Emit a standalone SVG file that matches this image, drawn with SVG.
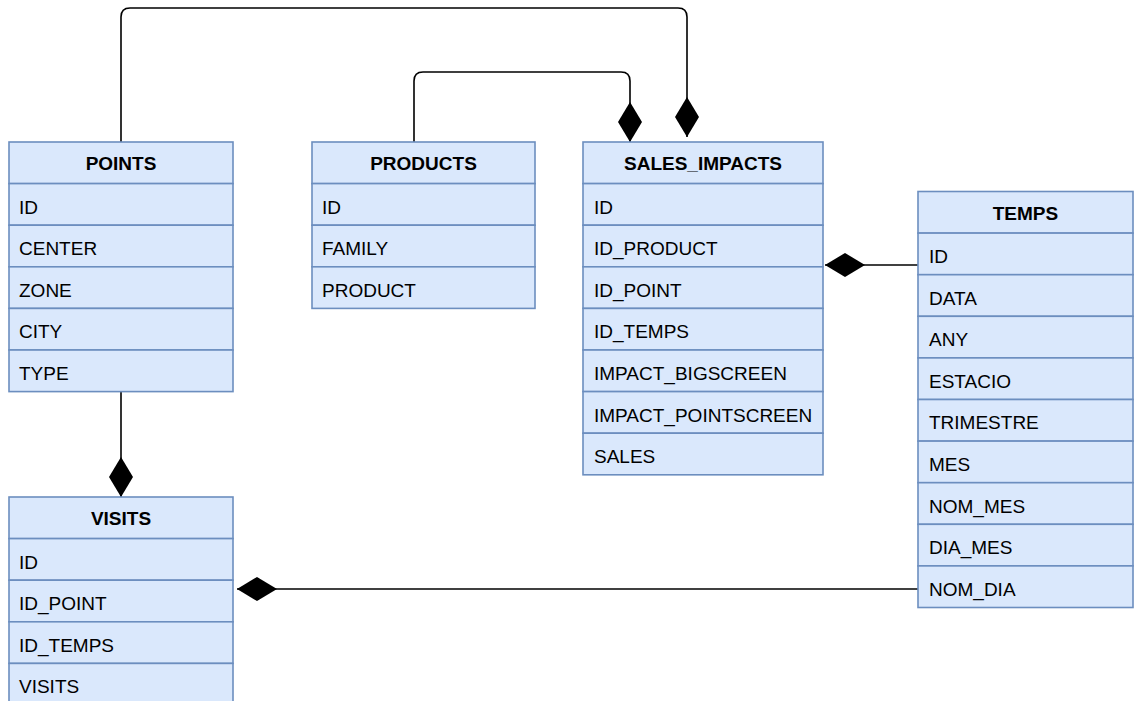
<svg xmlns="http://www.w3.org/2000/svg" width="1135" height="701" viewBox="0 0 1135 701">
<style>
.box{fill:#dae8fc;stroke:#6c8ebf;stroke-width:1.6}
.t{font-family:"Liberation Sans",Arial,sans-serif;font-size:19px;fill:#000}
.h{font-weight:bold;text-anchor:middle}
.c{fill:none;stroke:#000;stroke-width:1.6}
</style>
<defs>
<marker id="dia" viewBox="0 0 40 24" refX="40" refY="12" markerWidth="40" markerHeight="24" markerUnits="userSpaceOnUse" orient="auto">
<path d="M0,12 L20,0 L40,12 L20,24 Z" fill="#000"/>
</marker>
</defs>
<rect width="1135" height="701" fill="#fff"/>
<g id="connectors">
<path class="c" d="M121,142 V17 Q121,8 130,8 H678 Q687,8 687,17 V137" marker-end="url(#dia)"/>
<path class="c" d="M414,142 V81 Q414,72 423,72 H621 Q630,72 630,81 V142" marker-end="url(#dia)"/>
<path class="c" d="M121,392 V497" marker-end="url(#dia)"/>
<path class="c" d="M918,265 H825" marker-end="url(#dia)"/>
<path class="c" d="M918,589 H237" marker-end="url(#dia)"/>
</g>
<g id="points">
<rect class="box" x="9" y="142" width="224" height="41.6"/>
<rect class="box" x="9" y="183.6" width="224" height="41.6"/>
<rect class="box" x="9" y="225.2" width="224" height="41.6"/>
<rect class="box" x="9" y="266.8" width="224" height="41.6"/>
<rect class="box" x="9" y="308.4" width="224" height="41.6"/>
<rect class="box" x="9" y="350" width="224" height="41.6"/>
<text class="t h" x="121" y="170">POINTS</text>
<text class="t" x="19" y="213.5">ID</text>
<text class="t" x="19" y="255.1">CENTER</text>
<text class="t" x="19" y="296.7">ZONE</text>
<text class="t" x="19" y="338.3">CITY</text>
<text class="t" x="19" y="379.9">TYPE</text>
</g>
<g id="products">
<rect class="box" x="312" y="142" width="223" height="41.6"/>
<rect class="box" x="312" y="183.6" width="223" height="41.6"/>
<rect class="box" x="312" y="225.2" width="223" height="41.6"/>
<rect class="box" x="312" y="266.8" width="223" height="41.6"/>
<text class="t h" x="423.5" y="170">PRODUCTS</text>
<text class="t" x="322" y="213.5">ID</text>
<text class="t" x="322" y="255.1">FAMILY</text>
<text class="t" x="322" y="296.7">PRODUCT</text>
</g>
<g id="sales_impacts">
<rect class="box" x="583" y="142" width="240" height="41.6"/>
<rect class="box" x="583" y="183.6" width="240" height="41.6"/>
<rect class="box" x="583" y="225.2" width="240" height="41.6"/>
<rect class="box" x="583" y="266.8" width="240" height="41.6"/>
<rect class="box" x="583" y="308.4" width="240" height="41.6"/>
<rect class="box" x="583" y="350" width="240" height="41.6"/>
<rect class="box" x="583" y="391.6" width="240" height="41.6"/>
<rect class="box" x="583" y="433.2" width="240" height="41.6"/>
<text class="t h" x="703" y="170">SALES_IMPACTS</text>
<text class="t" x="594" y="213.5">ID</text>
<text class="t" x="594" y="255.1">ID_PRODUCT</text>
<text class="t" x="594" y="296.7">ID_POINT</text>
<text class="t" x="594" y="338.3">ID_TEMPS</text>
<text class="t" x="594" y="379.9">IMPACT_BIGSCREEN</text>
<text class="t" x="594" y="421.5">IMPACT_POINTSCREEN</text>
<text class="t" x="594" y="463.1">SALES</text>
</g>
<g id="temps">
<rect class="box" x="918" y="191.5" width="215" height="41.6"/>
<rect class="box" x="918" y="233.1" width="215" height="41.6"/>
<rect class="box" x="918" y="274.7" width="215" height="41.6"/>
<rect class="box" x="918" y="316.3" width="215" height="41.6"/>
<rect class="box" x="918" y="357.9" width="215" height="41.6"/>
<rect class="box" x="918" y="399.5" width="215" height="41.6"/>
<rect class="box" x="918" y="441.1" width="215" height="41.6"/>
<rect class="box" x="918" y="482.7" width="215" height="41.6"/>
<rect class="box" x="918" y="524.3" width="215" height="41.6"/>
<rect class="box" x="918" y="565.9" width="215" height="41.6"/>
<text class="t h" x="1025.5" y="219.5">TEMPS</text>
<text class="t" x="929" y="263">ID</text>
<text class="t" x="929" y="304.6">DATA</text>
<text class="t" x="929" y="346.2">ANY</text>
<text class="t" x="929" y="387.8">ESTACIO</text>
<text class="t" x="929" y="429.4">TRIMESTRE</text>
<text class="t" x="929" y="471">MES</text>
<text class="t" x="929" y="512.6">NOM_MES</text>
<text class="t" x="929" y="554.2">DIA_MES</text>
<text class="t" x="929" y="595.8">NOM_DIA</text>
</g>
<g id="visits">
<rect class="box" x="9" y="497" width="224" height="41.6"/>
<rect class="box" x="9" y="538.6" width="224" height="41.6"/>
<rect class="box" x="9" y="580.2" width="224" height="41.6"/>
<rect class="box" x="9" y="621.8" width="224" height="41.6"/>
<rect class="box" x="9" y="663.4" width="224" height="41.6"/>
<text class="t h" x="121" y="525">VISITS</text>
<text class="t" x="19" y="568.5">ID</text>
<text class="t" x="19" y="610.1">ID_POINT</text>
<text class="t" x="19" y="651.7">ID_TEMPS</text>
<text class="t" x="19" y="693.3">VISITS</text>
</g>
</svg>
